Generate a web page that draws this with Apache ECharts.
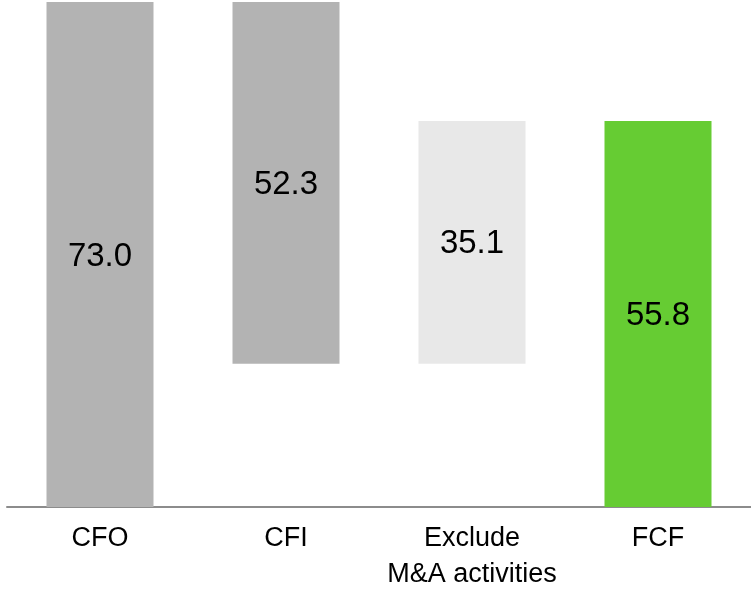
<!DOCTYPE html>
<html>
<head>
<meta charset="utf-8">
<script src="https://cdn.jsdelivr.net/npm/echarts@6/dist/echarts.min.js"></script>
<style>
  html, body { margin: 0; padding: 0; background: #ffffff; }
  #chart { width: 751px; height: 589px; }
</style>
</head>
<body>
<div id="chart"></div>
<script>
// Free cash flow bridge (waterfall)
const categories = ['CFO', 'CFI', 'Exclude\nM&A activities', 'FCF'];
const values = [73.0, 52.3, 35.1, 55.8];
const barColors = ['#b3b3b3', '#b3b3b3', '#e8e8e8', '#66cc33'];

// Invisible offsets: CFI hangs down from CFO's top, the M&A add-back starts where CFI ends
const cfiBottom = +(values[0] - values[1]).toFixed(1);
const offsets = [0, cfiBottom, cfiBottom, 0];

const fontFamily = '"Liberation Sans Narrow", "Arial Narrow", "Liberation Sans", Arial, sans-serif';

const chart = echarts.init(document.getElementById('chart'));
chart.setOption({
  animation: false,
  backgroundColor: '#ffffff',
  grid: { left: 7, right: 0, top: 2, bottom: 82, containLabel: false, outerBoundsMode: 'none' },
  xAxis: {
    type: 'category',
    data: categories,
    axisLine: { show: true, lineStyle: { color: '#8c8c8c', width: 2 } },
    axisTick: { show: false },
    axisLabel: {
      color: '#000000',
      fontFamily: fontFamily,
      fontSize: 27,
      lineHeight: 36,
      margin: 14,
      interval: 0
    }
  },
  yAxis: {
    type: 'value',
    min: 0,
    max: 73,
    show: false,
    splitLine: { show: false }
  },
  series: [
    {
      type: 'bar',
      stack: 'bridge',
      data: offsets,
      itemStyle: { color: 'transparent' },
      barWidth: 107,
      silent: true
    },
    {
      type: 'bar',
      stack: 'bridge',
      barWidth: 107,
      data: values.map((v, i) => ({ value: v, itemStyle: { color: barColors[i] } })),
      label: {
        show: true,
        position: 'inside',
        offset: [0, 2],
        color: '#000000',
        fontFamily: fontFamily,
        fontSize: 33,
        formatter: p => p.value.toFixed(1)
      }
    }
  ]
});
</script>
</body>
</html>
